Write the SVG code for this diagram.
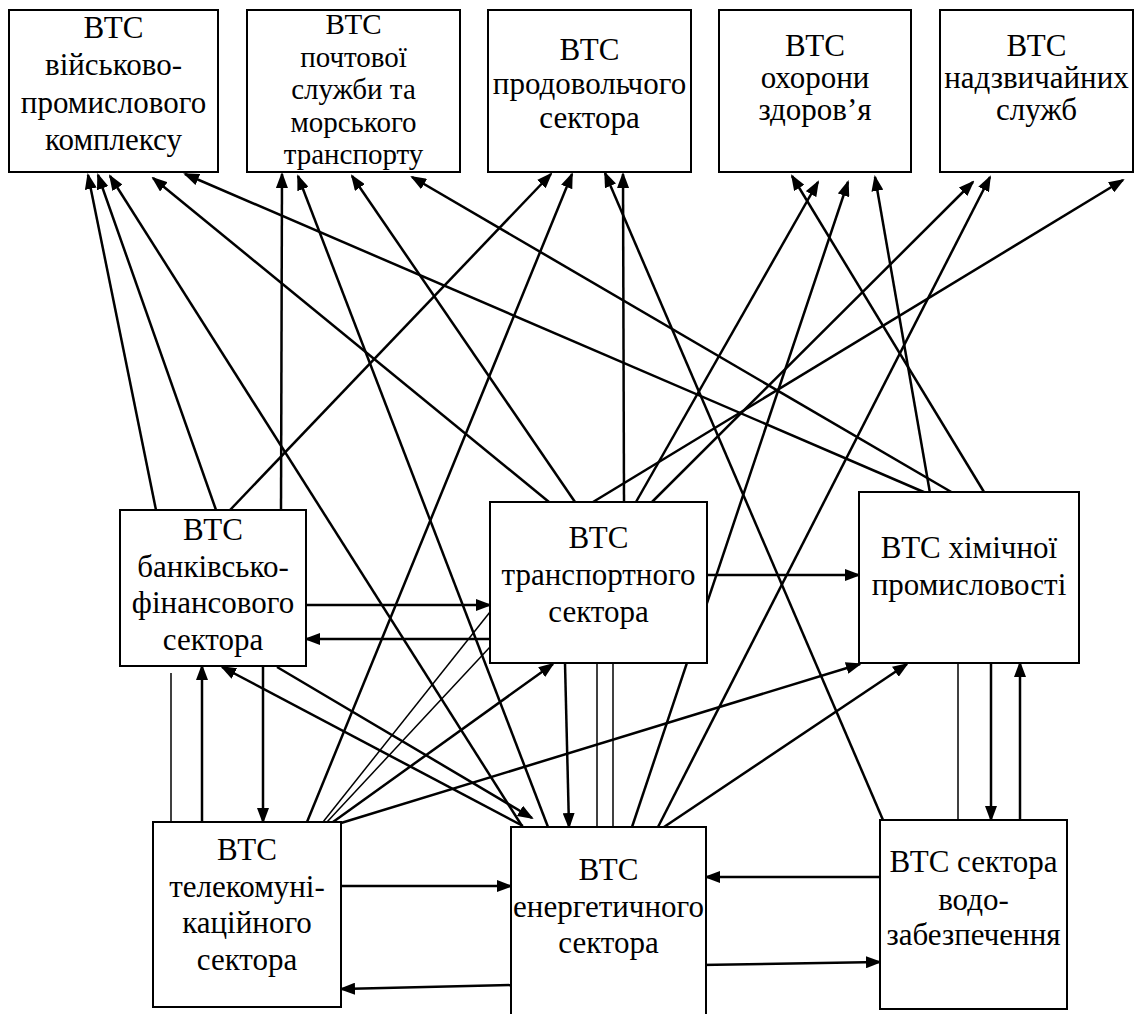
<svg xmlns="http://www.w3.org/2000/svg" width="1141" height="1014" viewBox="0 0 1141 1014">
<defs>
<marker id="ah" markerUnits="userSpaceOnUse" markerWidth="16" markerHeight="12" viewBox="0 0 16 12" refX="14" refY="6" orient="auto">
<path d="M0,0 L16,6 L0,12 z" fill="#000"/>
</marker>
<style>
.box{fill:#fff;stroke:#000;stroke-width:2}
.lbl{font-family:'Liberation Serif','Times New Roman',serif;font-size:31px;text-anchor:middle;fill:#000}
.sm{font-size:29px}
.c{stroke:#000;stroke-width:2.5;fill:none;marker-end:url(#ah)}
.t{stroke:#000;stroke-width:1.5;fill:none}
</style>
</defs>
<rect width="1141" height="1014" fill="#fff"/>
<g id="connectors">
<line class="c" x1="156" y1="510" x2="88" y2="175"/>
<line class="c" x1="216" y1="510" x2="98" y2="175"/>
<line class="c" x1="522" y1="826" x2="110" y2="176"/>
<line class="c" x1="549" y1="502" x2="153" y2="178"/>
<line class="c" x1="926" y1="493" x2="185" y2="174"/>
<line class="c" x1="281" y1="510" x2="282" y2="174"/>
<line class="c" x1="548" y1="827" x2="298" y2="176"/>
<line class="c" x1="575" y1="502" x2="352" y2="176"/>
<line class="c" x1="953" y1="493" x2="412" y2="177"/>
<line class="c" x1="230" y1="510" x2="551" y2="174"/>
<line class="c" x1="307" y1="822" x2="572" y2="174"/>
<line class="c" x1="883" y1="820" x2="605" y2="173"/>
<line class="c" x1="624" y1="502" x2="623" y2="174"/>
<line class="c" x1="984" y1="492" x2="792" y2="176"/>
<line class="c" x1="636" y1="502" x2="818" y2="182"/>
<line class="c" x1="632" y1="827" x2="848" y2="182"/>
<line class="c" x1="930" y1="493" x2="875" y2="177"/>
<line class="c" x1="652" y1="502" x2="973" y2="182"/>
<line class="c" x1="658" y1="827" x2="990" y2="177"/>
<line class="c" x1="593" y1="502" x2="1123" y2="180"/>
<line class="c" x1="306" y1="605" x2="490" y2="605"/>
<line class="c" x1="490" y1="639" x2="306" y2="639"/>
<line class="c" x1="707" y1="575" x2="859" y2="575"/>
<line class="c" x1="263" y1="666" x2="263" y2="822"/>
<line class="c" x1="202" y1="822" x2="202" y2="666"/>
<line class="t" x1="171" y1="822" x2="171" y2="673"/>
<line class="c" x1="277" y1="667" x2="532" y2="818"/>
<line class="c" x1="523" y1="826" x2="222" y2="667"/>
<line class="c" x1="333" y1="822" x2="553" y2="664"/>
<line class="c" x1="341" y1="823" x2="860" y2="664"/>
<line class="t" x1="323" y1="822" x2="490" y2="612"/>
<line class="t" x1="327" y1="822" x2="490" y2="647"/>
<line class="c" x1="565" y1="663" x2="569" y2="827"/>
<line class="t" x1="597" y1="663" x2="597" y2="827"/>
<line class="t" x1="613" y1="663" x2="613" y2="827"/>
<line class="c" x1="664" y1="827" x2="907" y2="664"/>
<line class="c" x1="341" y1="886" x2="511" y2="886"/>
<line class="c" x1="515" y1="985" x2="341" y2="989"/>
<line class="c" x1="880" y1="877" x2="706" y2="877"/>
<line class="c" x1="700" y1="965" x2="880" y2="962"/>
<line class="t" x1="958" y1="663" x2="958" y2="820"/>
<line class="c" x1="991" y1="663" x2="991" y2="820"/>
<line class="c" x1="1020" y1="820" x2="1020" y2="663"/>
</g>
<g id="n-military">
<rect class="box" x="9" y="10" width="209" height="162"/>
<text class="lbl"><tspan x="113.5" y="38">ВТС</tspan><tspan x="113.5" y="75">військово-</tspan><tspan x="113.5" y="113">промислового</tspan><tspan x="113.5" y="150">комплексу</tspan></text>
</g>
<g id="n-postal">
<rect class="box" x="247" y="10" width="213" height="162"/>
<text class="lbl sm"><tspan x="353.5" y="34">ВТС</tspan><tspan x="353.5" y="66.5">почтової</tspan><tspan x="353.5" y="99">служби та</tspan><tspan x="353.5" y="131.5">морського</tspan><tspan x="353.5" y="164">транспорту</tspan></text>
</g>
<g id="n-food">
<rect class="box" x="488" y="10" width="203" height="162"/>
<text class="lbl"><tspan x="589.5" y="60">ВТС</tspan><tspan x="589.5" y="94">продовольчого</tspan><tspan x="589.5" y="128">сектора</tspan></text>
</g>
<g id="n-health">
<rect class="box" x="719" y="10" width="192" height="162"/>
<text class="lbl"><tspan x="815" y="56">ВТС</tspan><tspan x="815" y="88">охорони</tspan><tspan x="815" y="120">здоров’я</tspan></text>
</g>
<g id="n-emergency">
<rect class="box" x="940" y="10" width="193" height="162"/>
<text class="lbl"><tspan x="1036.5" y="56">ВТС</tspan><tspan x="1036.5" y="88">надзвичайних</tspan><tspan x="1036.5" y="120">служб</tspan></text>
</g>
<g id="n-banking">
<rect class="box" x="120" y="510" width="186" height="156"/>
<text class="lbl"><tspan x="213" y="540">ВТС</tspan><tspan x="213" y="577">банківсько-</tspan><tspan x="213" y="613">фінансового</tspan><tspan x="213" y="650">сектора</tspan></text>
</g>
<g id="n-transport">
<rect class="box" x="490" y="502" width="217" height="161"/>
<text class="lbl"><tspan x="598.5" y="548">ВТС</tspan><tspan x="598.5" y="585">транспортного</tspan><tspan x="598.5" y="622">сектора</tspan></text>
</g>
<g id="n-chemical">
<rect class="box" x="859" y="492" width="220" height="171"/>
<text class="lbl"><tspan x="969" y="558">ВТС хімічної</tspan><tspan x="969" y="595">промисловості</tspan></text>
</g>
<g id="n-telecom">
<rect class="box" x="153" y="822" width="188" height="185"/>
<text class="lbl"><tspan x="247" y="860">ВТС</tspan><tspan x="247" y="897">телекомуні-</tspan><tspan x="247" y="933">каційного</tspan><tspan x="247" y="970">сектора</tspan></text>
</g>
<g id="n-energy">
<rect class="box" x="511" y="827" width="195" height="200"/>
<text class="lbl"><tspan x="608.5" y="880">ВТС</tspan><tspan x="608.5" y="917">енергетичного</tspan><tspan x="608.5" y="953">сектора</tspan></text>
</g>
<g id="n-water">
<rect class="box" x="880" y="820" width="187" height="189"/>
<text class="lbl"><tspan x="973.5" y="872">ВТС сектора</tspan><tspan x="973.5" y="910">водо-</tspan><tspan x="973.5" y="945">забезпечення</tspan></text>
</g>
</svg>
